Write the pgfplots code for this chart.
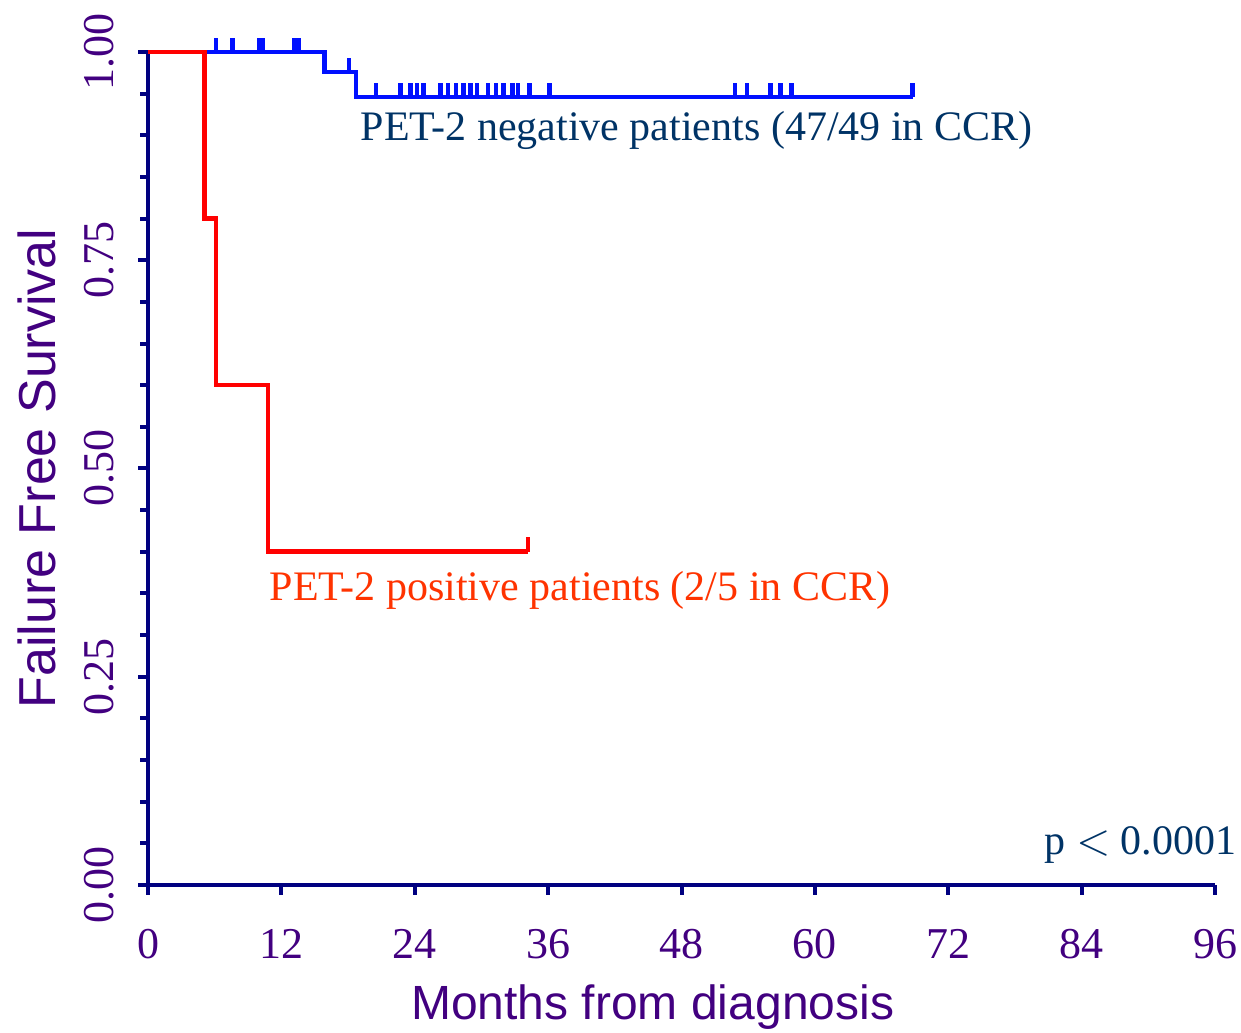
\documentclass[border=0pt]{standalone}
\usepackage{pgfplots}
\pgfplotsset{compat=1.18}
\usepackage{fontspec}
\setmainfont{Liberation Serif}
\newfontfamily\arialf{Liberation Sans}
\definecolor{axnavy}{RGB}{0,0,128}
\definecolor{lblpurp}{RGB}{66,0,128}
\definecolor{kmblue}{RGB}{0,16,255}
\definecolor{kmred}{RGB}{255,0,0}
\definecolor{txtblue}{RGB}{0,51,102}
\definecolor{txtred}{RGB}{255,51,0}
\pgfdeclareplotmark{cens}{\pgfpathmoveto{\pgfqpoint{0pt}{0pt}}\pgfpathlineto{\pgfqpoint{0pt}{3.6pt}}\pgfusepathqstroke}
\begin{document}
\begin{tikzpicture}
\begin{axis}[name=ax, scale only axis, width=266.75pt, height=208.25pt,
 xmin=0, xmax=96, ymin=0, ymax=1,
 axis lines=left, axis line style={-, line width=1pt, color=axnavy},
 xtick={0,12,...,96}, ytick={0,0.25,0.5,0.75,1},
 minor ytick={0.05,0.1,0.15,0.2,0.3,0.35,0.4,0.45,0.55,0.6,0.65,0.7,0.8,0.85,0.9,0.95},
 tick align=outside, major tick length=2.5pt, minor tick length=2pt,
 every tick/.style={line width=1pt, color=axnavy},
 every minor tick/.style={line width=1pt, color=axnavy},
 yticklabel style={/pgf/number format/fixed, /pgf/number format/fixed zerofill, /pgf/number format/precision=2, rotate=90, anchor=south},
 ticklabel style={font=\fontsize{11}{13}\selectfont, text=lblpurp},
 /pgf/number format/assume math mode=true,
 xticklabel shift=5pt, yticklabel shift=2.5pt,
 xlabel={Months from diagnosis}, ylabel={Failure Free Survival},
 xlabel style={font=\arialf\fontsize{12}{14}\selectfont, text=lblpurp, inner sep=0pt, at={(axis description cs:0.473,-0.1465)}, anchor=center},
 ylabel style={font=\arialf\fontsize{13}{15}\selectfont, text=lblpurp, inner sep=0pt, at={(axis description cs:-0.104,0.5)}, anchor=center},
 clip=false]
\addplot[const plot, kmblue, line width=1.15pt] coordinates {(0,1) (15.9,0.976) (18.7,0.946) (68.8,0.946)};
\addplot[only marks, mark=cens, kmblue, mark options={line width=1.15pt}] coordinates {
 (6.1,1) (7.6,1) (10.0,1) (10.3,1) (13.2,1) (13.6,1)
 (18.1,0.976)
 (20.5,0.946) (22.7,0.946) (23.6,0.946) (24.2,0.946) (24.8,0.946) (26.3,0.946) (27.0,0.946) (27.7,0.946)
 (28.4,0.946) (29.0,0.946) (29.6,0.946) (30.6,0.946) (31.3,0.946) (32.0,0.946) (32.8,0.946) (33.3,0.946)
 (34.3,0.946) (36.1,0.946) (52.8,0.946) (53.9,0.946) (56.0,0.946) (56.9,0.946) (57.9,0.946) (68.8,0.946)};
\addplot[const plot, kmred, line width=1.15pt] coordinates {(0,1) (5.06,0.8) (6.1,0.6) (10.8,0.4) (34.2,0.4)};
\addplot[only marks, mark=cens, kmred, mark options={line width=1.15pt}] coordinates {(34.2,0.4)};
\node[anchor=base west, inner sep=0, text=txtblue, font=\fontsize{10.5}{12}\selectfont] at (axis cs:19.07,0.894) {PET-2 negative patients (47/49 in CCR)};
\node[anchor=base west, inner sep=0, text=txtred, font=\fontsize{10.5}{12}\selectfont] at (axis cs:10.9,0.342) {PET-2 positive patients (2/5 in CCR)};
\node[anchor=base east, inner sep=0, text=txtblue, font=\fontsize{10.5}{12}\selectfont] at (axis cs:98.0,0.036) {p $<$ 0.0001};
\end{axis}
\pgfresetboundingbox
\useasboundingbox ([xshift=-37pt,yshift=-37pt]ax.south west) rectangle ([xshift=6.5pt,yshift=13pt]ax.north east);
\end{tikzpicture}
\end{document}
